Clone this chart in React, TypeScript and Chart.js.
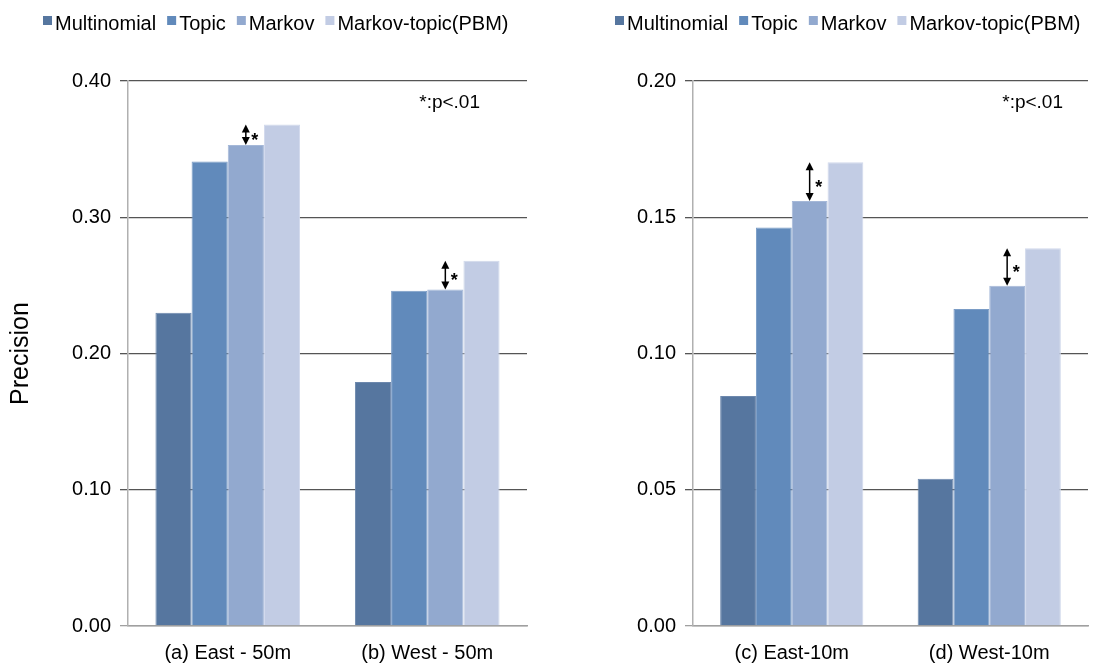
import React, { useEffect, useRef } from "react";
import { Chart, registerables } from "chart.js";
Chart.register(...registerables);

const FONT = "'Liberation Sans', Arial, Helvetica, sans-serif";

const seriesNames = ["Multinomial", "Topic", "Markov", "Markov-topic(PBM)"];
const seriesColors = ["#56769f", "#618abb", "#92a9cf", "#c2cce4"];
const seriesBorders = ["#6d88ad", "#7a9cc6", "#a5b8d8", "#d1d9ec"];

const leftCategories = ["(a) East - 50m", "(b) West - 50m"];
const leftMultinomial = [0.23, 0.179];
const leftTopic = [0.341, 0.246];
const leftMarkov = [0.353, 0.247];
const leftPBM = [0.368, 0.268];
const leftTicks = [0, 0.1, 0.2, 0.3, 0.4];

const rightCategories = ["(c) East-10m", "(d) West-10m"];
const rightMultinomial = [0.0844, 0.054];
const rightTopic = [0.1462, 0.1163];
const rightMarkov = [0.156, 0.1249];
const rightPBM = [0.1702, 0.1386];
const rightTicks = [0, 0.05, 0.1, 0.15, 0.2];

const significanceNote = "*:p<.01";
const sigFromSeries = 2; // Markov
const sigToSeries = 3; // Markov-topic(PBM)

const boxLegendPlugin = {
  id: "boxLegend",
  afterDraw(chart: any) {
    const o = chart.options.plugins.boxLegend;
    const ctx = chart.ctx;
    ctx.save();
    ctx.font = `20px ${FONT}`;
    ctx.textBaseline = "alphabetic";
    ctx.textAlign = "left";
    let x = o.x;
    chart.data.datasets.forEach((ds: any) => {
      ctx.fillStyle = ds.backgroundColor;
      ctx.fillRect(x, o.boxTop, 9, 9);
      x += 12;
      ctx.fillStyle = "#000";
      ctx.fillText(ds.label, x, o.baseline);
      x += ctx.measureText(ds.label).width + 11;
    });
    ctx.restore();
  },
};

const sigPlugin = {
  id: "sig",
  afterDatasetsDraw(chart: any) {
    const o = chart.options.plugins.sig;
    const ctx = chart.ctx;
    const mFrom = chart.getDatasetMeta(o.from);
    const mTo = chart.getDatasetMeta(o.to);
    ctx.save();
    mFrom.data.forEach((bar: any, i: number) => {
      const x = bar.x;
      const yb = bar.y;
      const yt = mTo.data[i].y;
      ctx.strokeStyle = "#000";
      ctx.fillStyle = "#000";
      ctx.lineWidth = 1.5;
      ctx.beginPath();
      ctx.moveTo(x, yt + 5);
      ctx.lineTo(x, yb - 5);
      ctx.stroke();
      ctx.beginPath();
      ctx.moveTo(x, yt);
      ctx.lineTo(x - 4, yt + 8);
      ctx.lineTo(x + 4, yt + 8);
      ctx.closePath();
      ctx.fill();
      ctx.beginPath();
      ctx.moveTo(x, yb);
      ctx.lineTo(x - 4, yb - 8);
      ctx.lineTo(x + 4, yb - 8);
      ctx.closePath();
      ctx.fill();
      ctx.font = `bold 18px ${FONT}`;
      ctx.textAlign = "center";
      ctx.textBaseline = "alphabetic";
      ctx.fillText("*", x + 9, (yt + yb) / 2 + 11);
    });
    ctx.font = `19px ${FONT}`;
    ctx.textAlign = "right";
    ctx.textBaseline = "alphabetic";
    ctx.fillStyle = "#000";
    ctx.fillText(o.note, chart.chartArea.right - o.noteRight, o.noteBaseline);
    ctx.restore();
  },
};

function makeConfig(
  categories: string[],
  values: number[][],
  ticks: number[],
  yWidth: number,
  padRight: number,
  legendX: number,
  noteRight: number,
  withTitle: boolean
): any {
  return {
    type: "bar",
    data: {
      labels: categories,
      datasets: values.map((d, i) => ({
        label: seriesNames[i],
        data: d,
        backgroundColor: seriesColors[i],
        borderColor: seriesBorders[i],
        borderWidth: 1,
        categoryPercentage: 0.725,
        barPercentage: 1,
      })),
    },
    plugins: [boxLegendPlugin, sigPlugin],
    options: {
      responsive: false,
      animation: false,
      layout: { padding: { left: 0, right: padRight, top: 81, bottom: 0 } },
      plugins: {
        legend: { display: false },
        tooltip: { enabled: false },
        boxLegend: { x: legendX, boxTop: 16, baseline: 30 },
        sig: { from: sigFromSeries, to: sigToSeries, note: significanceNote, noteRight, noteBaseline: 108 },
      },
      scales: {
        x: {
          grid: { display: false, drawTicks: false },
          border: { display: true, color: "#a0a0a0", width: 1.5 },
          ticks: { color: "#000", font: { size: 20, family: FONT }, padding: 15 },
          afterFit: (s: any) => {
            s.height = 38;
          },
        },
        y: {
          min: 0,
          max: ticks[ticks.length - 1],
          afterBuildTicks: (s: any) => {
            s.ticks = ticks.map((v) => ({ value: v }));
          },
          ticks: {
            color: "#000",
            font: { size: 20, family: FONT },
            padding: 9,
            callback: (v: any) => Number(v).toFixed(2),
          },
          grid: {
            color: (c: any) => (c.tick && c.tick.value === 0 ? "#a0a0a0" : "#555555"),
            tickLength: 8,
            lineWidth: 1.3,
          },
          border: { color: "#b0b0b0", width: 1.5 },
          title: {
            display: withTitle,
            text: "Precision",
            color: "#000",
            font: { size: 25, family: FONT },
            padding: { top: 6, bottom: 0 },
          },
          afterFit: (s: any) => {
            s.width = yWidth;
          },
        },
      },
    },
  };
}

export default function App() {
  const leftRef = useRef<HTMLCanvasElement>(null);
  const rightRef = useRef<HTMLCanvasElement>(null);

  useEffect(() => {
    Chart.defaults.font.family = FONT;
    const c1 = new Chart(
      leftRef.current as HTMLCanvasElement,
      makeConfig(
        leftCategories,
        [leftMultinomial, leftTopic, leftMarkov, leftPBM],
        leftTicks,
        128,
        28,
        43,
        47,
        true
      )
    );
    const c2 = new Chart(
      rightRef.current as HTMLCanvasElement,
      makeConfig(
        rightCategories,
        [rightMultinomial, rightTopic, rightMarkov, rightPBM],
        rightTicks,
        138,
        21,
        60,
        25,
        false
      )
    );
    return () => {
      c1.destroy();
      c2.destroy();
    };
  }, []);

  return (
    <div style={{ position: "absolute", left: 0, top: 0, width: 1109, height: 664, background: "#fff" }}>
      <canvas
        ref={leftRef}
        width={555}
        height={664}
        style={{ position: "absolute", left: 0, top: 0, width: 555, height: 664 }}
      />
      <canvas
        ref={rightRef}
        width={554}
        height={664}
        style={{ position: "absolute", left: 555, top: 0, width: 554, height: 664 }}
      />
    </div>
  );
}
